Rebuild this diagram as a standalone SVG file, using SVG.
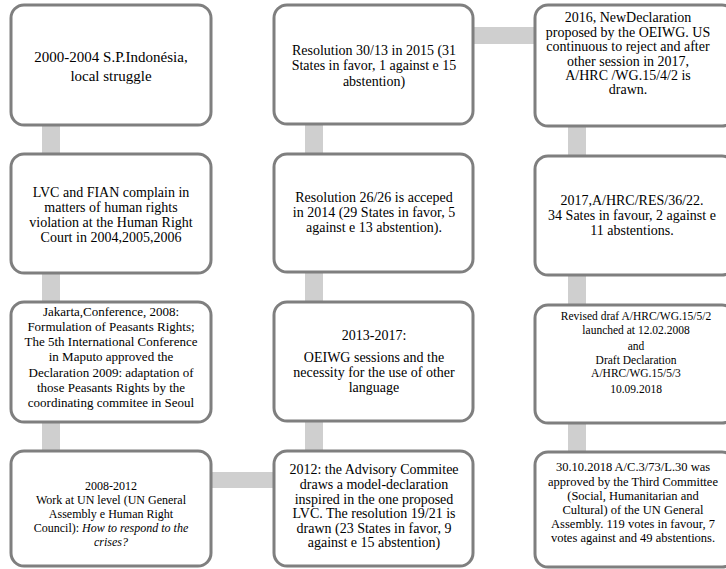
<svg xmlns="http://www.w3.org/2000/svg" width="726" height="569" viewBox="0 0 726 569" font-family="'Liberation Serif','Times New Roman',serif">
<style>
.box{fill:#ffffff;stroke:#7f7f7f;stroke-width:3}
.bar{fill:#cfcfcf}
text{font-family:"Liberation Serif","Times New Roman",serif;fill:#000;text-anchor:middle}
.f15{font-size:15px}.f14{font-size:14px}.f13{font-size:13px}.f125{font-size:12.5px}.f12{font-size:12px}.f11{font-size:11.5px}
.it{font-style:italic}
</style>
<rect width="726" height="569" fill="#ffffff"/>
<g id="connectors">
<rect class="bar" x="42" y="120" width="18" height="340"/>
<rect class="bar" x="305" y="120" width="18" height="340"/>
<rect class="bar" x="568" y="120" width="18" height="340"/>
<rect class="bar" x="470" y="27" width="70" height="17"/>
<rect class="bar" x="208" y="472" width="70" height="16"/>
</g>
<g id="n1"><rect class="box" x="11" y="5" width="200" height="120" rx="13"/>
<text class="f15" x="111" y="62">2000-2004 S.P.Indonésia,</text>
<text class="f15" x="111" y="81">local struggle</text></g>
<g id="n2"><rect class="box" x="11" y="154" width="200" height="119" rx="13"/>
<text class="f14" x="111" y="197">LVC and FIAN complain in</text>
<text class="f14" x="111" y="212">matters of human rights</text>
<text class="f14" x="111" y="227">violation at the Human Right</text>
<text class="f14" x="111" y="242">Court in 2004,2005,2006</text></g>
<g id="n3"><rect class="box" x="11" y="302" width="200" height="120" rx="13"/>
<text class="f13" x="111" y="316">Jakarta,Conference, 2008:</text>
<text class="f13" x="111" y="331">Formulation of Peasants Rights;</text>
<text class="f13" x="111" y="346">The 5th International Conference</text>
<text class="f13" x="111" y="361">in Maputo approved the</text>
<text class="f13" x="111" y="377">Declaration 2009: adaptation of</text>
<text class="f13" x="111" y="392">those Peasants Rights by the</text>
<text class="f13" x="111" y="407">coordinating commitee in Seoul</text></g>
<g id="n4"><rect class="box" x="11" y="451" width="200" height="115" rx="13"/>
<text class="f12" x="111" y="490">2008-2012</text>
<text class="f12" x="111" y="504">Work at UN level (UN General</text>
<text class="f12" x="111" y="518">Assembly e Human Right</text>
<text class="f12" x="111" y="532">Council): <tspan class="it">How to respond to the</tspan></text>
<text class="f12 it" x="111" y="546">crises?</text></g>
<g id="n5"><rect class="box" x="274" y="451" width="199" height="115" rx="13"/>
<text class="f14" x="374" y="474">2012: the Advisory Commitee</text>
<text class="f14" x="374" y="489">draws a model-declaration</text>
<text class="f14" x="374" y="504">inspired in the one proposed</text>
<text class="f14" x="374" y="518">LVC. The resolution 19/21 is</text>
<text class="f14" x="374" y="533">drawn  (23 States in favor, 9</text>
<text class="f14" x="374" y="547">against e 15 abstention)</text></g>
<g id="n6"><rect class="box" x="274" y="302" width="199" height="119" rx="13"/>
<text class="f14" x="374" y="340">2013-2017:</text>
<text class="f14" x="374" y="362">OEIWG  sessions  and the</text>
<text class="f14" x="374" y="377">necessity for the use of other</text>
<text class="f14" x="374" y="392">language</text></g>
<g id="n7"><rect class="box" x="274" y="154" width="199" height="118" rx="13"/>
<text class="f14" x="374" y="202">Resolution 26/26 is acceped</text>
<text class="f14" x="374" y="217">in 2014 (29 States in favor, 5</text>
<text class="f14" x="374" y="232">against e 13 abstention).</text></g>
<g id="n8"><rect class="box" x="274" y="5" width="199" height="119" rx="13"/>
<text class="f14" x="374" y="55">Resolution 30/13 in 2015 (31</text>
<text class="f14" x="374" y="70">States in favor, 1 against e 15</text>
<text class="f14" x="374" y="86">abstention)</text></g>
<g id="n9"><rect class="box" x="535" y="5" width="200" height="121" rx="13"/>
<text class="f14" x="628" y="22">2016, NewDeclaration</text>
<text class="f14" x="628" y="37">proposed by the OEIWG. US</text>
<text class="f14" x="628" y="51">continuous to reject and after</text>
<text class="f14" x="628" y="66">other session in 2017,</text>
<text class="f14" x="628" y="80">A/HRC /WG.15/4/2 is</text>
<text class="f14" x="628" y="94">drawn.</text></g>
<g id="n10"><rect class="box" x="535" y="156" width="200" height="119" rx="13"/>
<text class="f14" x="632" y="205">2017,A/HRC/RES/36/22.</text>
<text class="f14" x="632" y="220">34 Sates in favour, 2 against e</text>
<text class="f14" x="632" y="235">11 abstentions.</text></g>
<g id="n11"><rect class="box" x="535" y="305" width="200" height="118" rx="13"/>
<text class="f11" x="636" y="320">Revised draf A/HRC/WG.15/5/2</text>
<text class="f11" x="636" y="334">launched at 12.02.2008</text>
<text class="f11" x="636" y="350">and</text>
<text class="f11" x="636" y="364">Draft Declaration</text>
<text class="f11" x="636" y="377">A/HRC/WG.15/5/3</text>
<text class="f11" x="636" y="393">10.09.2018</text></g>
<g id="n12"><rect class="box" x="535" y="452" width="200" height="115" rx="13"/>
<text class="f125" x="633" y="471">30.10.2018 A/C.3/73/L.30 was</text>
<text class="f125" x="633" y="486">approved by the Third Committee</text>
<text class="f125" x="633" y="500">(Social, Humanitarian and</text>
<text class="f125" x="633" y="514">Cultural) of the UN General</text>
<text class="f125" x="633" y="528">Assembly. 119 votes in favour, 7</text>
<text class="f125" x="633" y="542">votes against and 49 abstentions.</text></g>
</svg>
